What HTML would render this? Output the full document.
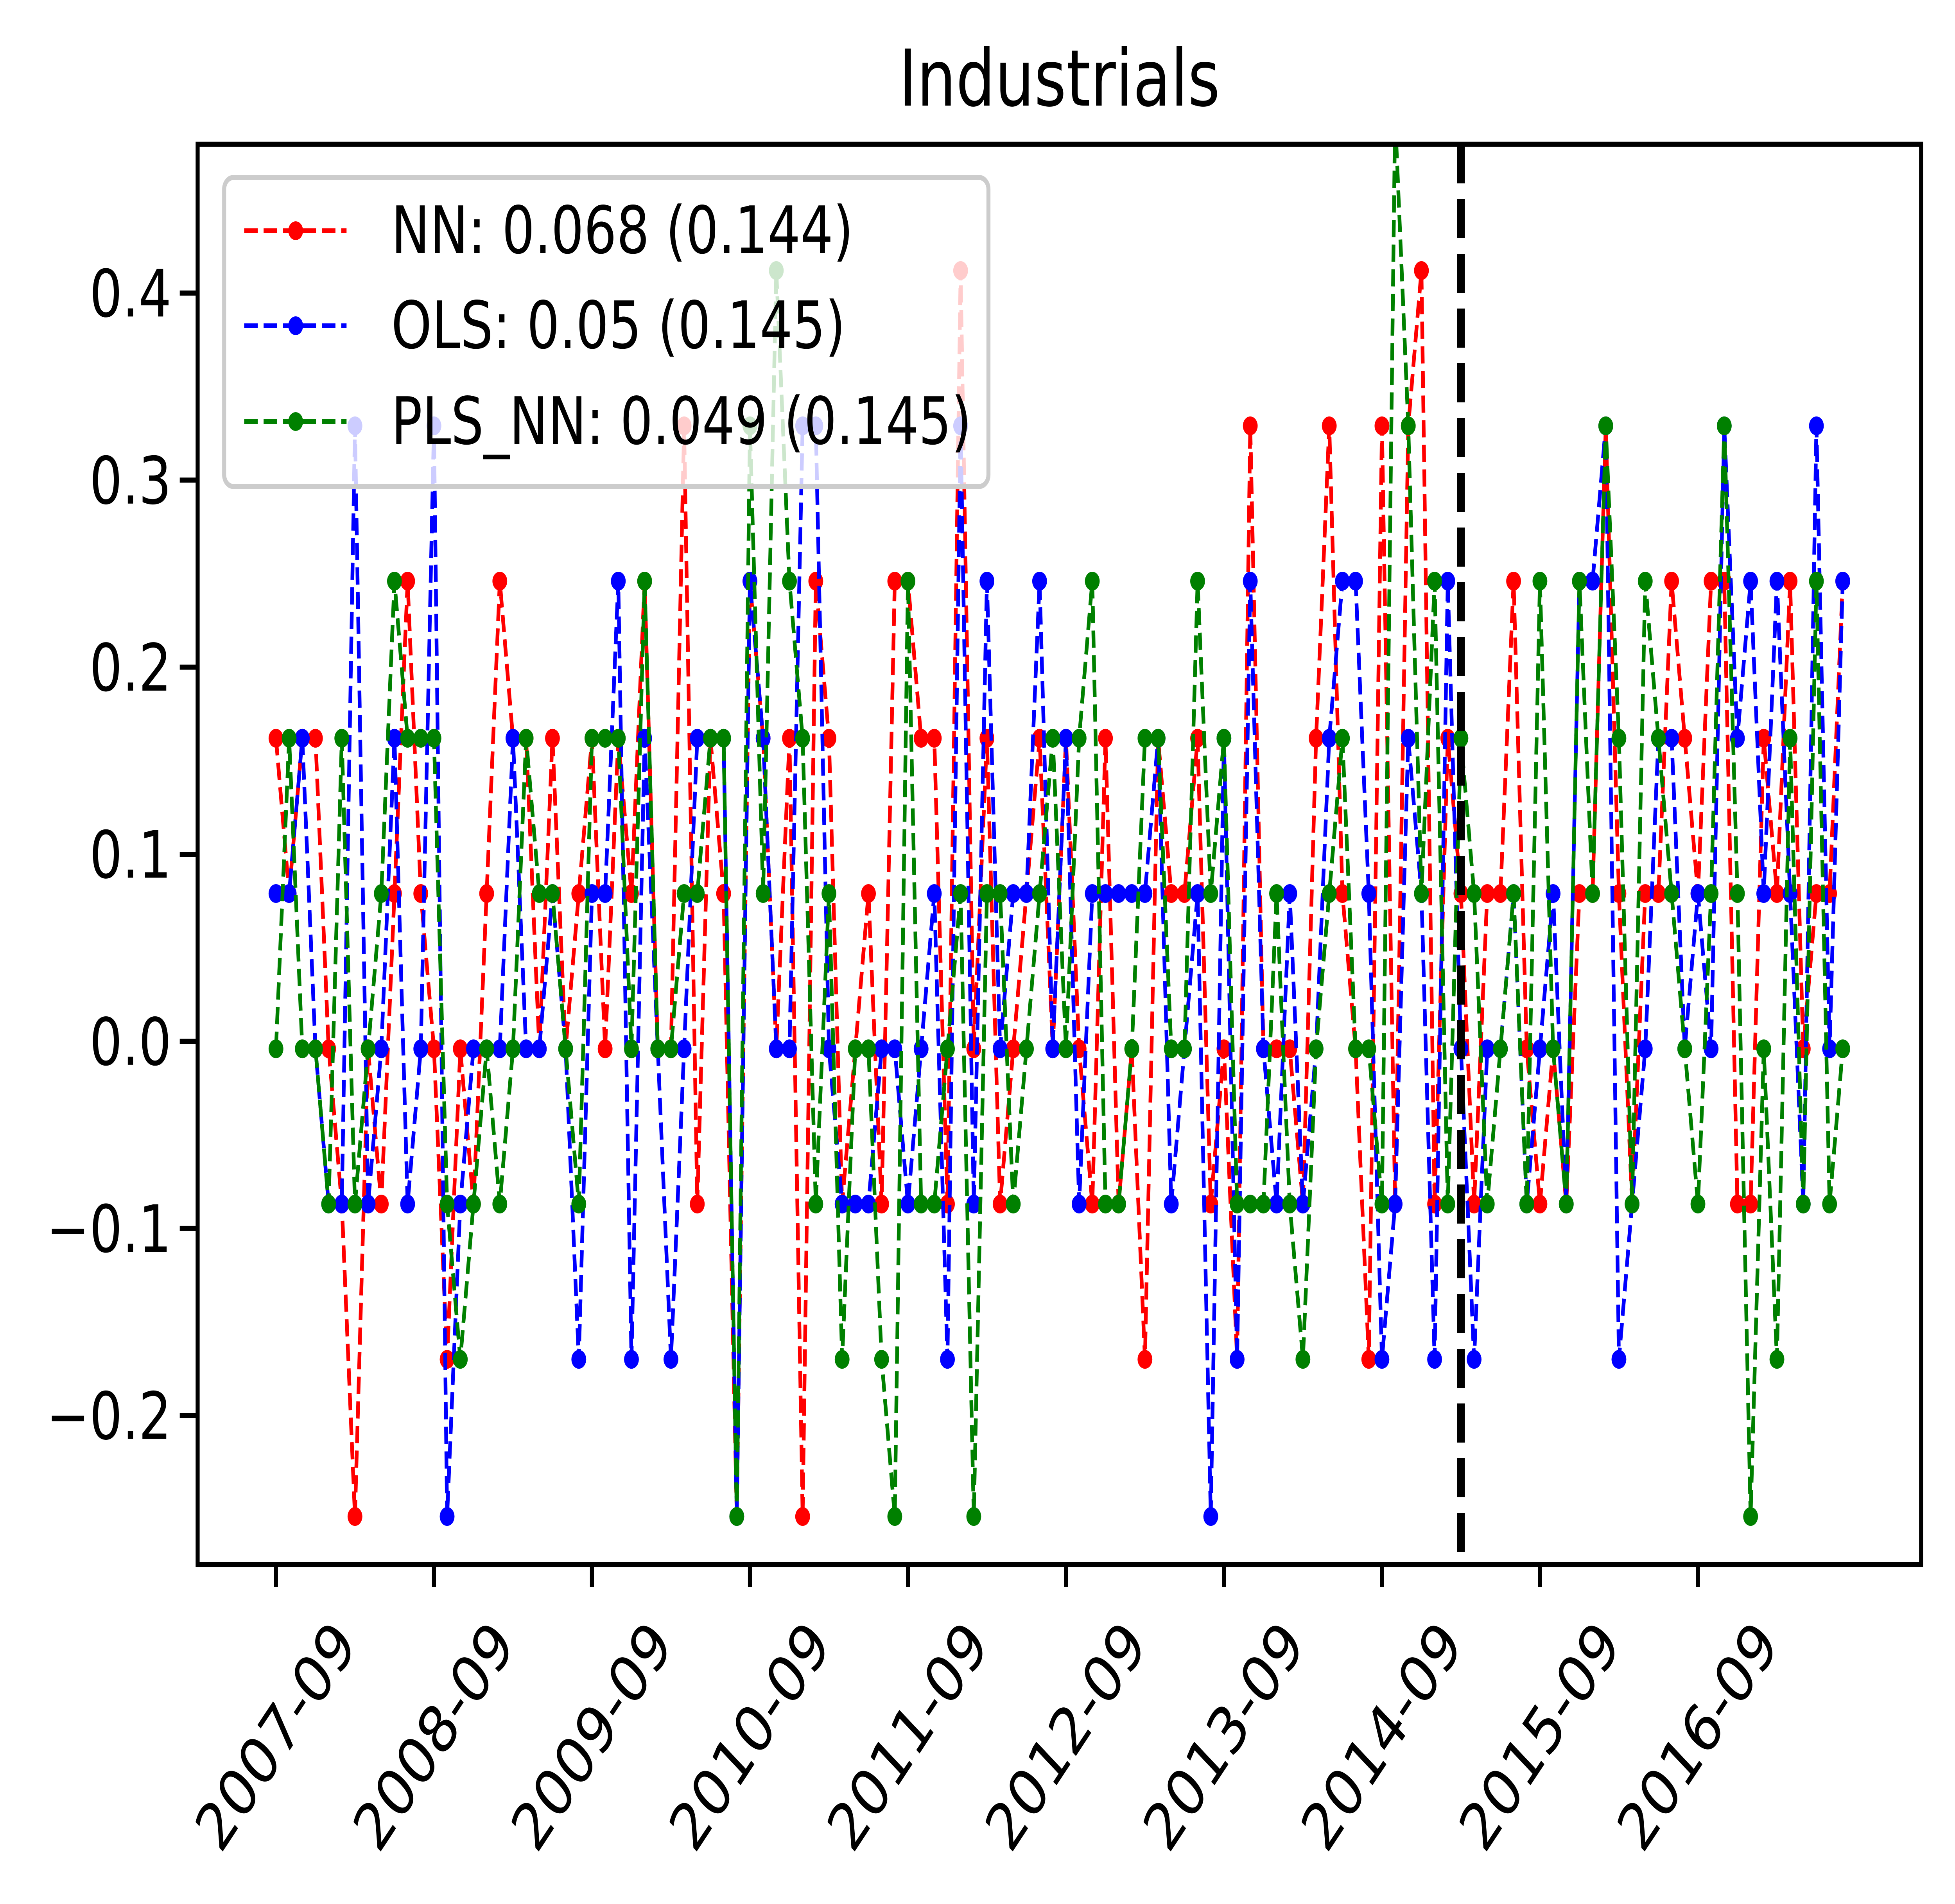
<!DOCTYPE html>
<html><head><meta charset="utf-8"><title>Industrials</title>
<style>html,body{margin:0;padding:0;background:#fff;width:100%;height:100%;overflow:hidden}svg{display:block;width:100%;height:100%}text{font-family:"DejaVu Sans","Liberation Sans",sans-serif}</style>
</head><body>
<svg id="chart" xmlns="http://www.w3.org/2000/svg" viewBox="0 0 6341 4869" preserveAspectRatio="none">
<rect width="6341" height="4869" fill="#fff"/>
<defs><clipPath id="plotclip"><rect x="641" y="369" width="5590" height="3632"/></clipPath></defs>
<text x="3436" y="270" font-size="200" text-anchor="middle">Industrials</text>
<g id="marks" clip-path="url(#plotclip)"></g>
<rect x="641" y="369" width="5590" height="3632" fill="none" stroke="#000" stroke-width="13"/>
<g id="axes"></g>
<g id="legend">
<rect x="727" y="454" width="2479" height="790" rx="30" fill="#fff" fill-opacity="0.8" stroke="#cccccc" stroke-width="13"/>
<g><line x1="792" y1="590" x2="1124" y2="590" stroke="#ff0000" stroke-width="12" stroke-dasharray="44 19"/><circle cx="959" cy="590" r="24" fill="#ff0000"/><text x="1269" y="647" font-size="167">NN: 0.068 (0.144)</text></g>
<g><line x1="792" y1="833" x2="1124" y2="833" stroke="#0000ff" stroke-width="12" stroke-dasharray="44 19"/><circle cx="959" cy="833" r="24" fill="#0000ff"/><text x="1269" y="890" font-size="167">OLS: 0.05 (0.145)</text></g>
<g><line x1="792" y1="1078" x2="1124" y2="1078" stroke="#008000" stroke-width="12" stroke-dasharray="44 19"/><circle cx="959" cy="1078" r="24" fill="#008000"/><text x="1269" y="1135" font-size="167">PLS_NN: 0.049 (0.145)</text></g>
</g>
</svg>
<script>
const nnValues=[0.162,0.079,0.162,0.162,-0.004,-0.087,-0.254,-0.004,-0.087,0.079,0.246,0.079,-0.004,-0.170,-0.004,-0.087,0.079,0.246,0.162,0.162,
-0.004,0.162,-0.004,0.079,0.162,-0.004,0.162,0.079,0.246,-0.004,-0.004,0.329,-0.087,0.162,0.079,-0.254,0.246,0.162,-0.004,0.162,
-0.254,0.246,0.162,-0.087,-0.004,0.079,-0.087,0.246,0.246,0.162,0.162,-0.087,0.412,-0.004,0.162,-0.087,-0.004,0.079,0.162,-0.004,
0.162,-0.004,-0.087,0.162,-0.087,-0.004,-0.170,0.162,0.079,0.079,0.162,-0.087,-0.004,-0.170,0.329,-0.004,-0.004,-0.004,-0.087,0.162,
0.329,0.079,-0.004,-0.170,0.329,-0.087,0.329,0.412,-0.087,0.162,0.079,-0.087,0.079,0.079,0.246,-0.004,-0.087,-0.004,-0.087,0.079,
0.079,0.329,0.079,-0.087,0.079,0.079,0.246,0.162,0.079,0.246,0.246,-0.087,-0.087,0.162,0.079,0.246,-0.004,0.079,0.079,0.246];
const olsValues=[0.079,0.079,0.162,-0.004,-0.087,-0.087,0.329,-0.087,-0.004,0.162,-0.087,-0.004,0.329,-0.254,-0.087,-0.004,-0.004,-0.004,0.162,-0.004,
-0.004,0.079,-0.004,-0.170,0.079,0.079,0.246,-0.170,0.162,-0.004,-0.170,-0.004,0.162,0.162,0.162,-0.254,0.246,0.162,-0.004,-0.004,
0.329,0.329,-0.004,-0.087,-0.087,-0.087,-0.004,-0.004,-0.087,-0.004,0.079,-0.170,0.329,-0.087,0.246,-0.004,0.079,0.079,0.246,-0.004,
0.162,-0.087,0.079,0.079,0.079,0.079,0.079,0.162,-0.087,-0.004,0.079,-0.254,0.162,-0.170,0.246,-0.004,-0.087,0.079,-0.087,-0.004,
0.162,0.246,0.246,0.079,-0.170,-0.087,0.162,0.079,-0.170,0.246,-0.004,-0.170,-0.004,-0.004,0.079,-0.087,-0.004,0.079,-0.087,0.246,
0.246,0.329,-0.170,-0.087,-0.004,0.162,0.162,-0.004,0.079,-0.004,0.329,0.162,0.246,0.079,0.246,0.079,-0.087,0.329,-0.004,0.246];
const plsValues=[-0.004,0.162,-0.004,-0.004,-0.087,0.162,-0.087,-0.004,0.079,0.246,0.162,0.162,0.162,-0.087,-0.170,-0.087,-0.004,-0.087,-0.004,0.162,
0.079,0.079,-0.004,-0.087,0.162,0.162,0.162,-0.004,0.246,-0.004,-0.004,0.079,0.079,0.162,0.162,-0.254,0.329,0.079,0.412,0.246,
0.162,-0.087,0.079,-0.170,-0.004,-0.004,-0.170,-0.254,0.246,-0.087,-0.087,-0.004,0.079,-0.254,0.079,0.079,-0.087,-0.004,0.079,0.162,
-0.004,0.162,0.246,-0.087,-0.087,-0.004,0.162,0.162,-0.004,-0.004,0.246,0.079,0.162,-0.087,-0.087,-0.087,0.079,-0.087,-0.170,-0.004,
0.079,0.162,-0.004,-0.004,-0.087,0.495,0.329,0.079,0.246,-0.087,0.162,0.079,-0.087,-0.004,0.079,-0.087,0.246,-0.004,-0.087,0.246,
0.079,0.329,0.162,-0.087,0.246,0.162,0.079,-0.004,-0.087,0.079,0.329,0.079,-0.254,-0.004,-0.170,0.162,-0.087,0.246,-0.087,-0.004];
const yTickValues=[-0.2,-0.1,0.0,0.1,0.2,0.3,0.4];
const yTickLabels=["\u22120.2","\u22120.1","0.0","0.1","0.2","0.3","0.4"];
const xTickIndices=[0,12,24,36,48,60,72,84,96,108];
const xTickLabels=["2007-09","2008-09","2009-09","2010-09","2011-09","2012-09","2013-09","2014-09","2015-09","2016-09"];
const splitIndex=90;

const NS="http://www.w3.org/2000/svg";
const PL=641,PR=6231,PT=369,PB=4001;
const XMIN=-5.95,XMAX=124.95,YMIN=-0.2797,YMAX=0.4795;
function xs(i){return PL+(i-XMIN)/(XMAX-XMIN)*(PR-PL);}
function ys(v){return PB-(v-YMIN)/(YMAX-YMIN)*(PB-PT);}
function mk(tag,attrs,parent){const e=document.createElementNS(NS,tag);for(const k in attrs)e.setAttribute(k,attrs[k]);parent.appendChild(e);return e;}

const marks=document.getElementById('marks');
const axes=document.getElementById('axes');

const series=[{vals:nnValues,color:"#ff0000",name:"nn"},{vals:olsValues,color:"#0000ff",name:"ols"},{vals:plsValues,color:"#008000",name:"pls-nn"}];
series.forEach(s=>{
  const g=mk('g',{},marks);
  
  
  const pts=s.vals.map((v,i)=>xs(i).toFixed(1)+','+ys(v).toFixed(1)).join(' ');
  const pl=mk('polyline',{points:pts,fill:'none',stroke:s.color,'stroke-width':12,'stroke-dasharray':'44 19','stroke-linejoin':'round'},g);
  
  
  s.vals.forEach((v,i)=>{
    const c=mk('circle',{cx:xs(i).toFixed(1),cy:ys(v).toFixed(1),r:24,fill:s.color},g);
    
    
  });
});

const vl=mk('line',{x1:xs(splitIndex),x2:xs(splitIndex),y1:PT,y2:PB,stroke:'#000','stroke-width':25,'stroke-dasharray':'100 40'},marks);



yTickValues.forEach((v,k)=>{
  const y=ys(v);
  const t=mk('line',{x1:PL-58,x2:PL,y1:y,y2:y,stroke:'#000','stroke-width':13},axes);
  
  
  const tx=mk('text',{x:PL-85,y:y+60,'font-size':167,'text-anchor':'end'},axes);
  tx.textContent=yTickLabels[k];
  
  
});
xTickIndices.forEach((idx,k)=>{
  const x=xs(idx);
  const t=mk('line',{x1:x,x2:x,y1:PB,y2:PB+58,stroke:'#000','stroke-width':13},axes);
  
  
  const tx=mk('text',{x:0,y:0,'font-size':167,'text-anchor':'middle','dominant-baseline':'central',transform:'translate('+x.toFixed(1)+',4440) rotate(-50)'},axes);
  tx.textContent=xTickLabels[k];
  
  
});
</script>
</body></html>
